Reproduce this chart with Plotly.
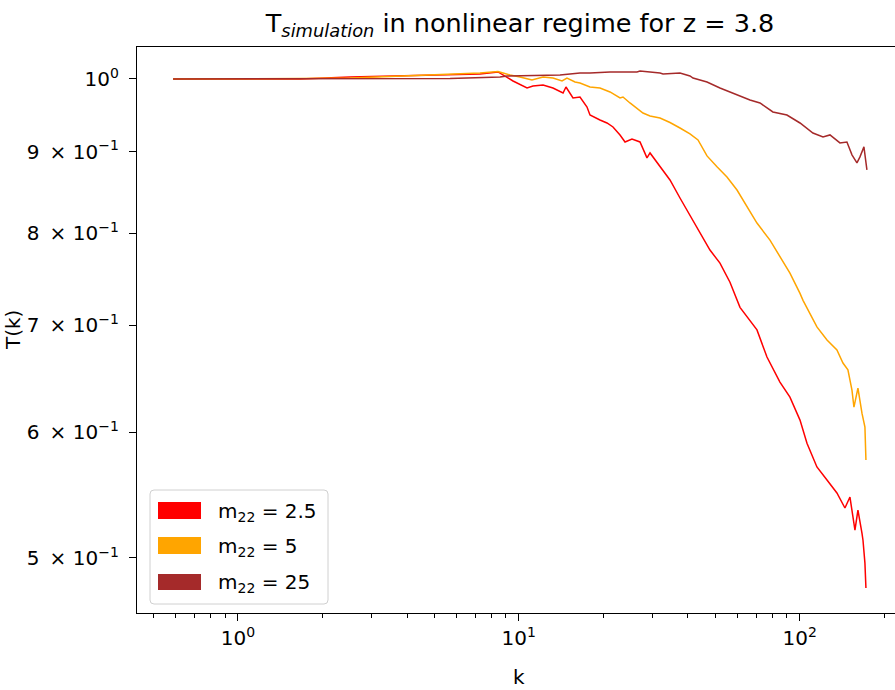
import plotly.graph_objects as go

# ---- data ----
k_red = [0.588, 1.105, 1.665, 2.508, 3.779, 5.691, 7.276, 8.434, 8.787, 9.537, 10.70, 11.23,
         12.20, 13.23, 14.37, 14.72, 15.59, 16.51, 17.49, 17.92, 19.45, 20.60, 21.64, 22.92,
         23.88, 25.28, 27.00, 28.59, 29.31, 30.04, 31.81, 34.52, 37.47, 40.67, 44.15, 47.91,
         52.00, 56.44, 61.27, 66.50, 70.42, 76.43, 85.01, 92.27, 100.2, 106.1, 115.1, 125.0,
         135.6, 144.8, 150.9, 157.2, 161.1, 166.5, 167.9, 170.6, 172.0]
t_red = [1.0, 1.0, 1.0, 1.0029, 1.0044, 1.0058, 1.0073, 1.0102, 1.0058, 0.9971, 0.9871, 0.9899,
         0.9914, 0.9871, 0.9799, 0.9885, 0.9729, 0.9743, 0.9603, 0.9492, 0.9424, 0.9383, 0.9329, 0.9222,
         0.9129, 0.9169, 0.9129, 0.8921, 0.8985, 0.8934, 0.8806, 0.8640, 0.8418, 0.8210, 0.8001, 0.7807,
         0.7661, 0.7452, 0.7186, 0.7056, 0.6955, 0.6688, 0.6449, 0.6310, 0.6104, 0.5903, 0.5704, 0.5597,
         0.5493, 0.5375, 0.5461, 0.5205, 0.5359, 0.5183, 0.5130, 0.4963, 0.4787]

k_orange = [0.588, 1.105, 1.665, 2.508, 3.779, 5.691, 7.276, 8.434, 9.305, 10.10, 11.14, 12.20,
            13.23, 14.25, 14.84, 15.85, 16.51, 17.92, 19.45, 21.12, 22.92, 23.49, 24.87, 27.67,
            29.31, 31.81, 34.52, 37.47, 40.67, 43.43, 46.76, 50.74, 55.07, 59.79, 64.88, 70.42,
            78.34, 85.01, 92.27, 100.2, 102.7, 115.1, 125.0, 135.6, 142.5, 148.4, 153.4, 155.9,
            161.1, 166.5, 170.6, 172.0]
t_orange = [1.0, 1.0, 1.0007, 1.0014, 1.0044, 1.0073, 1.0087, 1.0109, 1.0058, 1.0029, 0.9986, 1.0029,
            1.0014, 0.9971, 1.0014, 0.9957, 0.9942, 0.9885, 0.9871, 0.9814, 0.9729, 0.9743, 0.9659, 0.9520,
            0.9479, 0.9451, 0.9390, 0.9315, 0.9235, 0.9155, 0.8947, 0.8806, 0.8678, 0.8516, 0.8309, 0.8118,
            0.7920, 0.7728, 0.7551, 0.7333, 0.7259, 0.6985, 0.6855, 0.6757, 0.6630, 0.6564, 0.6375, 0.6219,
            0.6393, 0.6166, 0.6042, 0.5762]

k_brown = [0.588, 1.665, 3.779, 5.691, 8.574, 9.080, 14.02, 16.51, 17.92, 21.12, 26.34, 27.00,
           31.81, 32.61, 37.47, 40.67, 41.69, 44.15, 46.76, 52.00, 57.87, 66.50, 72.18, 80.25,
           90.03, 100.2, 111.4, 121.0, 128.1, 139.0, 147.2, 153.4, 159.8, 163.8, 169.2, 172.0, 173.4]
t_brown = [1.0, 1.0, 1.0, 1.0007, 1.0029, 1.0044, 1.0058, 1.0087, 1.0087, 1.0102, 1.0102, 1.0116,
           1.0087, 1.0073, 1.0087, 1.0044, 1.0014, 0.9986, 0.9957, 0.9871, 0.9799, 0.9700, 0.9659, 0.9534,
           0.9492, 0.9383, 0.9248, 0.9195, 0.9222, 0.9116, 0.9129, 0.8960, 0.8857, 0.8934, 0.9064, 0.8831, 0.8767]

series_labels = ["m<sub>22</sub> = 2.5", "m<sub>22</sub> = 5", "m<sub>22</sub> = 25"]
series_colors = ["#ff0000", "#ffa500", "#a52a2a"]

x_major = [1, 10, 100]
x_major_text = ["10<sup>0</sup>", "10<sup>1</sup>", "10<sup>2</sup>"]
x_minor = [0.5, 0.6, 0.7, 0.8, 0.9, 2, 3, 4, 5, 6, 7, 8, 9,
           20, 30, 40, 50, 60, 70, 80, 90, 200]
y_ticks = [0.5, 0.6, 0.7, 0.8, 0.9, 1.0]
y_tick_text = ["5\u2002×\u200410<sup>−1</sup>", "6\u2002×\u200410<sup>−1</sup>",
               "7\u2002×\u200410<sup>−1</sup>", "8\u2002×\u200410<sup>−1</sup>",
               "9\u2002×\u200410<sup>−1</sup>", "10<sup>0</sup>"]

# ---- layout geometry (pixels) ----
W, H = 895, 690
L, R, T, B = 137, 0, 47, 77
PW, PH = W - L - R, H - T - B
FONT = "DejaVu Sans"


def px(x):
    return (x - L) / PW


def py(y):
    return (H - B - y) / PH


fig = go.Figure()
for kk, tt, lab, col in zip([k_red, k_orange, k_brown], [t_red, t_orange, t_brown],
                            series_labels, series_colors):
    fig.add_trace(go.Scatter(x=kk, y=tt, mode="lines", name=lab,
                             line=dict(color=col, width=1.5), showlegend=False))

# manual matplotlib-style legend
x0, x1, y0, y1, r = 150, 328, 490, 604, 4
rx, ry = r / PW, r / PH
X0, X1, Y0, Y1 = px(x0), px(x1), py(y0), py(y1)
path = (f"M{X0+rx},{Y0} L{X1-rx},{Y0} Q{X1},{Y0} {X1},{Y0-ry} "
        f"L{X1},{Y1+ry} Q{X1},{Y1} {X1-rx},{Y1} L{X0+rx},{Y1} Q{X0},{Y1} {X0},{Y1+ry} "
        f"L{X0},{Y0-ry} Q{X0},{Y0} {X0+rx},{Y0} Z")
shapes = [dict(type="path", xref="paper", yref="paper", path=path,
               line=dict(color="#d0d0d0", width=1), fillcolor="rgba(255,255,255,0.8)", layer="above")]
annotations = []
patch_rows = [(502, 519), (537, 554), (574, 590)]
for (ya, yb), lab, col in zip(patch_rows, series_labels, series_colors):
    shapes.append(dict(type="rect", xref="paper", yref="paper",
                       x0=px(158), x1=px(201), y0=py(yb), y1=py(ya),
                       fillcolor=col, line=dict(width=0), layer="above"))
    annotations.append(dict(xref="paper", yref="paper", x=px(216), y=py((ya + yb) / 2 + 1),
                            xanchor="left", yanchor="middle", text=lab, showarrow=False,
                            font=dict(family=FONT, size=20, color="black")))

annotations.append(dict(xref="paper", yref="paper", x=px(519), y=py(677), text="k",
                        showarrow=False, xanchor="center", yanchor="middle",
                        font=dict(family=FONT, size=20, color="black")))
annotations.append(dict(xref="paper", yref="paper", x=px(13), y=py(330), text="T(k)",
                        textangle=-90, showarrow=False, xanchor="center", yanchor="middle",
                        font=dict(family=FONT, size=20, color="black")))

fig.update_layout(
    width=W, height=H,
    margin=dict(l=L, r=R, t=T, b=B, pad=0),
    paper_bgcolor="white", plot_bgcolor="white",
    font=dict(family=FONT, size=20, color="black"),
    title=dict(text="T<sub><i>simulation</i></sub> in nonlinear regime for z = 3.8",
               x=px(520), xref="paper", xanchor="center",
               y=1 - 23 / H, yref="container", yanchor="middle",
               font=dict(family=FONT, size=25.5, color="black")),
    shapes=shapes, annotations=annotations,
    showlegend=False,
)
fig.update_xaxes(type="log", range=[-0.359, 2.339],
                 showline=True, linecolor="black", linewidth=1.3, mirror=True,
                 showgrid=False, zeroline=False,
                 ticks="outside", ticklen=7, tickwidth=1.3, tickcolor="black",
                 tickvals=x_major, ticktext=x_major_text,
                 tickfont=dict(family=FONT, size=20, color="black"),
                 minor=dict(tickvals=x_minor, ticks="outside", ticklen=4, tickwidth=1,
                            tickcolor="black", showgrid=False))
fig.update_yaxes(type="log", range=[-0.3356, 0.0201],
                 showline=True, linecolor="black", linewidth=1.3, mirror=False,
                 showgrid=False, zeroline=False,
                 ticks="outside", ticklen=7, tickwidth=1.3, tickcolor="black",
                 ticklabelstandoff=6,
                 tickvals=y_ticks, ticktext=y_tick_text,
                 tickfont=dict(family=FONT, size=20, color="black"))

fig.write_html("out.html")
